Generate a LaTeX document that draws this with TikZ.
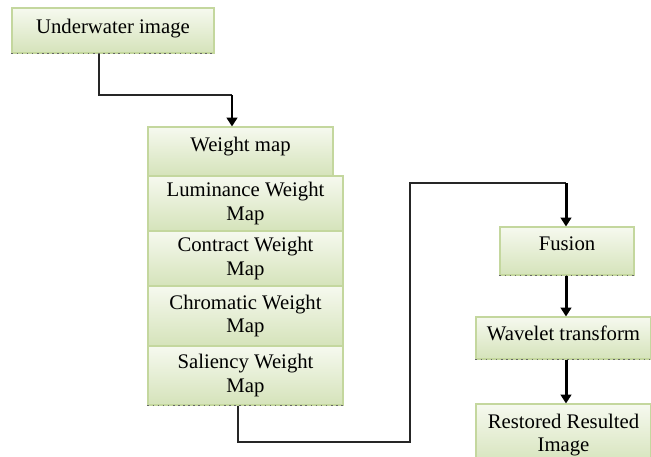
\documentclass[tikz,border=0pt]{standalone}
\usepackage{fontspec}
\newfontfamily\boxfont{Liberation Serif}
\usetikzlibrary{positioning, arrows.meta}
\definecolor{boxgreen}{HTML}{D5E3BA}
\definecolor{boxtop}{HTML}{F6F9EF}
\definecolor{boxline}{HTML}{C4D79E}

\tikzset{
  box/.style={draw=boxline, line width=0.6pt, top color=boxtop, bottom color=boxgreen,
    align=center, inner sep=0pt, font=\boxfont\fontsize{11.8}{13.6}\selectfont},
  conn/.style={draw=black!85, line width=0.8pt},
  flow/.style={draw=black, line width=1.7pt, -{Triangle[length=5pt,width=6pt]}},
  basedots/.style={draw=black!60, line width=0.9pt, dotted}
}

\begin{document}
\begin{tikzpicture}
    \useasboundingbox (0,0) rectangle (13.02,-9.12);
    \clip (0,0) rectangle (13.02,-9.12);
    % left column
    \node[box, minimum width=4.04cm, text height=0.50cm, text depth=0.40cm] (under) at (2.26,-0.61) {Underwater image};
    \node[box, minimum width=3.70cm, text height=0.48cm, text depth=0.50cm] (weight) at (4.81,-3.03) {Weight map};
    \node[box, minimum width=3.90cm, minimum height=1.10cm] (lum) at (4.91,-4.07) {Luminance Weight\\Map};
    \node[box, minimum width=3.90cm, minimum height=1.10cm] (con) at (4.91,-5.17) {Contract Weight\\Map};
    \node[box, minimum width=3.90cm, minimum height=1.20cm] (chr) at (4.91,-6.32) {Chromatic Weight\\Map};
    \node[box, minimum width=3.90cm, minimum height=1.18cm] (sal) at (4.91,-7.51) {Saliency Weight\\Map};
    % right column
    \node[box, minimum width=2.68cm, text height=0.46cm, text depth=0.50cm] (fusion) at (11.34,-5.02) {Fusion};
    \node[box, minimum width=3.50cm, text height=0.46cm, text depth=0.38cm] (wave) at (11.27,-6.76) {Wavelet transform};
    \node[box, minimum width=3.50cm, minimum height=1.24cm] (rest) at (11.27,-8.70) {Restored Resulted\\Image};
    \foreach \n in {under,sal,fusion,wave}
      \draw[basedots] (\n.south west) -- (\n.south east);
    % connectors
    \coordinate (k1) at (4.64,-1.90);
    \coordinate (k2) at (4.76,-8.84);
    \coordinate (k3) at (8.20,-3.66);
    \coordinate (k4) at (11.32,-3.66);
    \draw[conn] ([xshift=-0.28cm]under.south) |- (k1);
    \draw[flow] (k1) -- (k1 |- weight.north);
    \draw[conn] (sal.south -| k2) -- (k2) -| (k3) -- (k4);
    \draw[flow] (k4) -- (k4 |- fusion.north);
    \draw[flow] (fusion.south -| k4) -- (k4 |- wave.north);
    \draw[flow] (wave.south -| k4) -- (k4 |- rest.north);
\end{tikzpicture}
\end{document}
